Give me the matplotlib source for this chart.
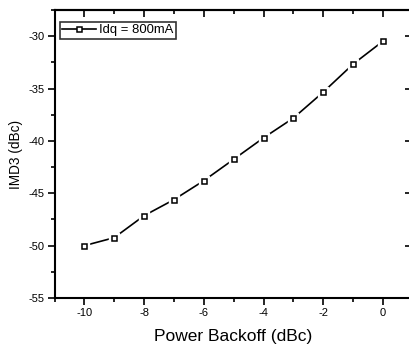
import numpy as np
import matplotlib
matplotlib.use("Agg")
import matplotlib.pyplot as plt
from matplotlib.ticker import MultipleLocator
from matplotlib.lines import Line2D

plt.rcParams['font.family'] = ['Liberation Sans', 'DejaVu Sans']

backoff = [-10, -9, -8, -7, -6, -5, -4, -3, -2, -1, 0]
imd3 = [-50.0, -49.24, -47.14, -45.61, -43.8, -41.76, -39.71, -37.82, -35.34, -32.67, -30.48]

fig = plt.figure(figsize=(4.09, 3.44), dpi=100)
# axes placed so right spine sits just outside the image, like the original crop
ax = fig.add_axes([54.5/409, 1 - 298/344, (411 - 54.5)/409, (298 - 10)/344])

ax.plot(backoff, imd3, color='black', lw=1.2, zorder=2)
# white halo gives the small gap in the line around each marker
ax.plot(backoff, imd3, ls='none', marker='s', ms=6.5, mfc='white', mec='white', zorder=3)
ax.plot(backoff, imd3, ls='none', marker='s', ms=3.6, mfc='white', mec='black', mew=1.1, zorder=4)

ax.set_xlim(-11, 0.94)
ax.set_ylim(-55, -27.5)
ax.xaxis.set_major_locator(MultipleLocator(2))
ax.xaxis.set_minor_locator(MultipleLocator(1))
ax.yaxis.set_major_locator(MultipleLocator(5))
ax.yaxis.set_minor_locator(MultipleLocator(2.5))

for s in ax.spines.values():
    s.set_linewidth(1.5)

ax.tick_params(which='both', direction='out', width=1.2, labelsize=8)
ax.tick_params(which='major', length=5, pad=2)
ax.tick_params(which='minor', length=3)

# top and right mirror ticks point inward
sec_x = ax.secondary_xaxis('top')
sec_x.xaxis.set_major_locator(MultipleLocator(2))
sec_x.xaxis.set_minor_locator(MultipleLocator(1))
sec_x.tick_params(which='both', direction='in', labeltop=False, width=1.2)
sec_x.tick_params(which='major', length=5)
sec_x.tick_params(which='minor', length=3)
sec_x.spines['top'].set_linewidth(1.5)
sec_y = ax.secondary_yaxis('right')
sec_y.yaxis.set_major_locator(MultipleLocator(5))
sec_y.yaxis.set_minor_locator(MultipleLocator(2.5))
sec_y.tick_params(which='both', direction='in', labelright=False, width=1.2)
sec_y.tick_params(which='major', length=4)
sec_y.tick_params(which='minor', length=1.5)

ax.set_xticklabels([str(int(v)) for v in ax.get_xticks()])
ax.set_yticklabels([str(int(v)) for v in ax.get_yticks()])

ax.set_xlabel('Power Backoff (dBc)', fontsize=12.5, labelpad=8)
ax.set_ylabel('IMD3 (dBc)', fontsize=9.8, labelpad=4)

handle = Line2D([], [], color='black', lw=1.2, marker='s', ms=3.6, mfc='white', mec='black', mew=1.1)
leg = ax.legend([handle], ['Idq = 800mA'], loc='upper left', bbox_to_anchor=(0.015, 0.96),
                fontsize=9.4, frameon=True, fancybox=False, edgecolor='black', borderpad=0.2,
                handlelength=2.6, handletextpad=0.2, borderaxespad=0)
leg.get_frame().set_linewidth(1.2)

fig.savefig('out.png', dpi=100)
